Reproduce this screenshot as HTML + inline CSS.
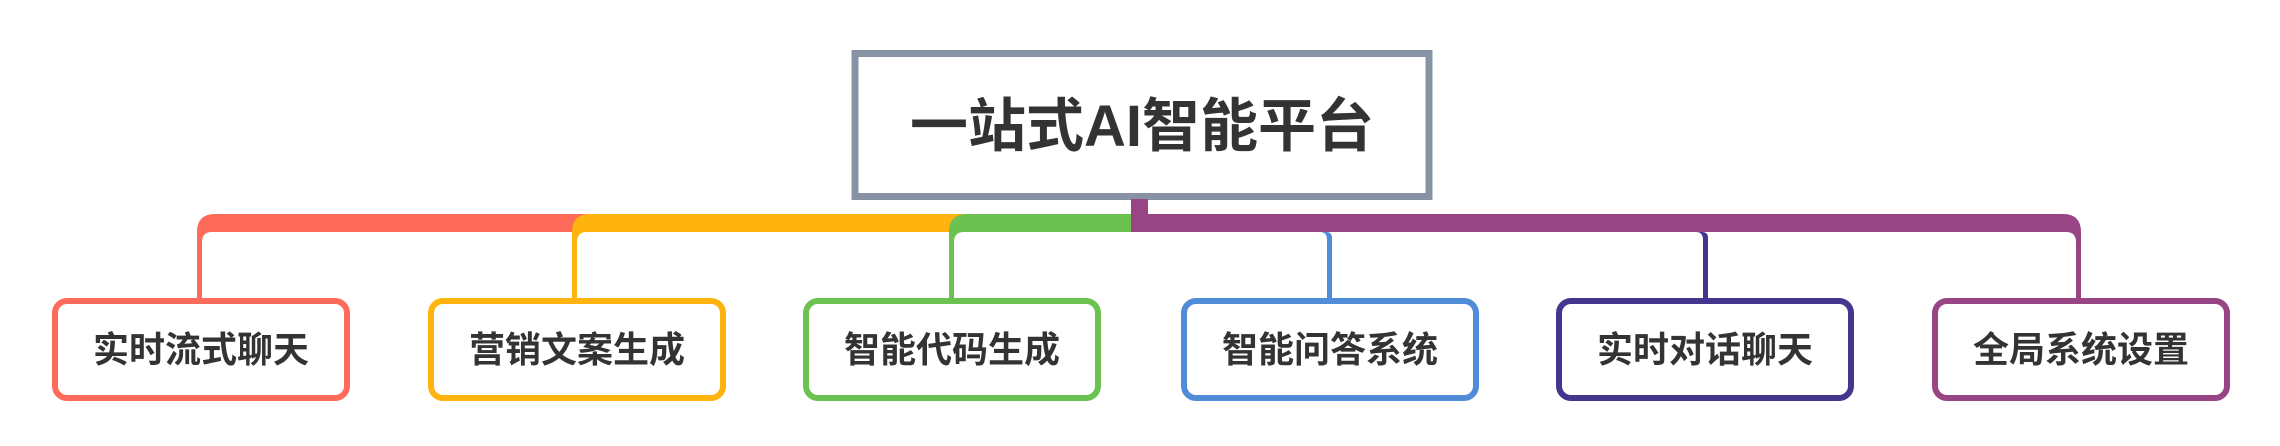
<!DOCTYPE html>
<html><head><meta charset="utf-8"><style>
html,body{margin:0;padding:0;background:#fff;width:2280px;height:446px;overflow:hidden}
svg text{font-family:"Liberation Sans","Noto Sans CJK SC",sans-serif;font-weight:bold;fill:#333}
</style></head><body>
<svg width="2280" height="446" viewBox="0 0 2280 446" xmlns="http://www.w3.org/2000/svg">
<!-- root -->
<rect x="855" y="53.5" width="574" height="143" fill="#fff" stroke="#8793a5" stroke-width="7"/>
<text x="1142" y="146" font-size="58" text-anchor="middle">一站式AI智能平台</text>
<!-- red -->
<path d="M197,298 L197,232 Q197,214 215,214 L595,214 L595,232 L212,232 Q202,232 202,242 L202,298 Z" fill="#fe6b5b"/>
<!-- orange -->
<path d="M572,298 L572,232 Q572,214 590,214 L970,214 L970,232 L587,232 Q577,232 577,242 L577,298 Z" fill="#ffb30f"/>
<!-- green -->
<path d="M949,298 L949,232 Q949,214 967,214 L1140,214 L1140,232 L964,232 Q954,232 954,242 L954,298 Z" fill="#6cc251"/>
<!-- purple stem + bar -->
<rect x="1131" y="199" width="17" height="16" fill="#974584"/>
<path d="M1131,214 L2063,214 Q2081,214 2081,232 L2081,298 L2076,298 L2076,242 Q2076,232 2066,232 L1131,232 Z" fill="#974584"/>
<!-- blue / navy verticals -->
<path d="M1320,232 Q1327,232 1327,240 L1327,298 L1332,298 L1332,238 Q1332,232 1326,232 Z" fill="#508cd8"/>
<path d="M1696,232 Q1703,232 1703,240 L1703,298 L1708,298 L1708,238 Q1708,232 1702,232 Z" fill="#44358f"/>
<!-- children -->
<g fill="#fff" stroke-width="6">
<rect x="55" y="301" width="292" height="97" rx="12" stroke="#fe6b5b"/>
<rect x="431" y="301" width="292" height="97" rx="12" stroke="#ffb30f"/>
<rect x="806" y="301" width="292" height="97" rx="12" stroke="#6cc251"/>
<rect x="1184" y="301" width="292" height="97" rx="12" stroke="#508cd8"/>
<rect x="1559" y="301" width="292" height="97" rx="12" stroke="#44358f"/>
<rect x="1935" y="301" width="292" height="97" rx="12" stroke="#974584"/>
</g>
<g font-size="36" text-anchor="middle">
<text x="201" y="362">实时流式聊天</text>
<text x="577" y="362">营销文案生成</text>
<text x="952" y="362">智能代码生成</text>
<text x="1330" y="362">智能问答系统</text>
<text x="1705" y="362">实时对话聊天</text>
<text x="2081" y="362">全局系统设置</text>
</g>
</svg>
</body></html>
